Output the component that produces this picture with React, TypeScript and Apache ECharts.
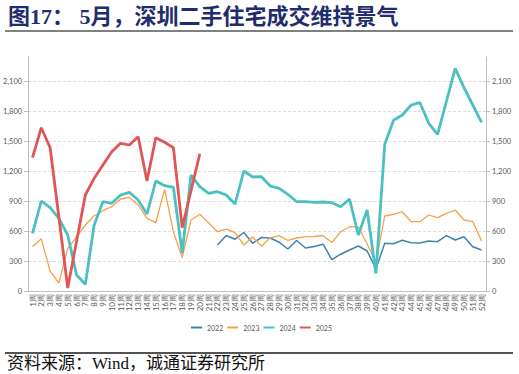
import React, { useEffect, useRef } from "react";
import * as echarts from "echarts";

const weeks: string[] = Array.from({ length: 52 }, (_, i) => `${i + 1}周`);

const s2022: (number | null)[] = [
  null, null, null, null, null, null, null, null, null, null,
  null, null, null, null, null, null, null, null, null, null,
  null, 460, 555, 518, 585, 477, 535, 530, 488, 420,
  505, 430, 445, 468, 313, 368, 410, 450, 400, 222,
  477, 473, 507, 483, 480, 500, 493, 553, 510, 543,
  443, 410,
];

const s2023: (number | null)[] = [
  443, 522, 198, 80, 427, 540, 660, 753, 803, 843,
  920, 937, 860, 727, 683, 1017, 593, 333, 710, 767,
  682, 593, 618, 583, 460, 543, 447, 532, 553, 507,
  530, 543, 545, 555, 485, 593, 643, 640, 470, 290,
  750, 767, 793, 693, 693, 760, 733, 777, 810, 710,
  693, 500,
];

const s2024: (number | null)[] = [
  577, 900, 833, 727, 560, 160, 67, 660, 893, 877,
  960, 987, 910, 770, 1100, 1053, 1037, 380, 1160, 1043,
  977, 993, 960, 870, 1200, 1140, 1143, 1050, 1027, 967,
  893, 893, 887, 890, 883, 843, 920, 560, 810, 175,
  1467, 1707, 1760, 1860, 1883, 1677, 1567, 1895, 2227, 2033,
  1860, 1687,
];

const s2025: (number | null)[] = [
  1333, 1633, 1433, 735, 30, 495, 960, 1127, 1260, 1393,
  1477, 1460, 1543, 1100, 1533, 1487, 1433, 633, 1003, 1373,
];

const seriesNames = ["2022", "2023", "2024", "2025"];
const seriesColors = ["#3c83b4", "#f8a04a", "#4cc0c0", "#e05556"];
const seriesWidths = [1.5, 1.3, 2.8, 2.8];
const seriesData = [s2022, s2023, s2024, s2025];

const titleText = "图17： 5月，深圳二手住宅成交维持景气";
const sourceText = "资料来源：Wind，诚通证券研究所";

const fmt = (v: number) => v.toLocaleString("en-US");

export default function App() {
  const ref = useRef<HTMLDivElement>(null);
  useEffect(() => {
    if (!ref.current) return;
    const chart = echarts.init(ref.current, null, { renderer: "svg" });
    const yCommon = (isLeft: boolean) => ({
      type: "value",
      min: 0,
      max: 2340,
      interval: 300,
      position: isLeft ? "left" : "right",
      axisLine: { show: true, lineStyle: { color: "#bfbfbf", width: 1 } },
      axisTick: { show: true, length: 4, lineStyle: { color: "#bfbfbf" } },
      axisLabel: {
        fontSize: 7.5,
        color: "#595959",
        fontFamily: "Lato",
        margin: 6,
        showMaxLabel: false,
        formatter: fmt,
      },
      splitLine: isLeft
        ? { show: true, showMaxLine: false, showMinLine: false, lineStyle: { color: "#dcdcdc", type: [3, 2], width: 1 } }
        : { show: false },
    });
    chart.setOption({
      animation: false,
      backgroundColor: "#ffffff",
      grid: { left: 27, right: 33, top: 57, bottom: 83, containLabel: false },
      legend: {
        top: 319,
        left: 186,
        itemWidth: 11,
        itemHeight: 2,
        itemGap: 4,
        icon: "rect",
        data: seriesNames,
        textStyle: { fontSize: 7, color: "#595959", fontFamily: "Lato" },
      },
      xAxis: {
        type: "category",
        data: weeks,
        boundaryGap: true,
        axisLine: { lineStyle: { color: "#bfbfbf" } },
        axisTick: { alignWithLabel: true, length: 3, lineStyle: { color: "#bfbfbf" } },
        axisLabel: { interval: 0, rotate: 90, fontSize: 8, color: "#595959", margin: 3, fontFamily: "Lato" },
      },
      yAxis: [yCommon(true), yCommon(false)],
      series: seriesNames.map((name, k) => ({
        name,
        type: "line",
        data: seriesData[k],
        yAxisIndex: k >= 2 ? 1 : 0,
        symbol: "none",
        showSymbol: false,
        connectNulls: false,
        color: seriesColors[k],
        lineStyle: { color: seriesColors[k], width: seriesWidths[k] },
        z: 2 + k,
      })),
      graphic: [
        {
          type: "text",
          x: 8,
          y: 16,
          style: {
            text: titleText,
            font: 'bold 22px "Liberation Serif", "Noto Sans CJK SC"',
            fill: "#1f2d6e",
            verticalAlign: "middle",
            align: "left",
          },
        },
        {
          type: "line",
          shape: { x1: 5, y1: 31, x2: 513, y2: 31 },
          style: { stroke: "#808080", lineWidth: 2 },
        },
        {
          type: "line",
          shape: { x1: 5, y1: 353, x2: 513, y2: 353 },
          style: { stroke: "#1a1a1a", lineWidth: 1.5 },
        },
        {
          type: "text",
          x: 7,
          y: 363,
          style: {
            text: sourceText,
            font: '17px "Liberation Serif", "Noto Sans CJK SC"',
            fill: "#111111",
            verticalAlign: "middle",
            align: "left",
          },
        },
      ],
    });
    return () => chart.dispose();
  }, []);
  return (
    <div
      ref={ref}
      style={{ position: "fixed", left: 0, top: 0, width: 519, height: 374, background: "#fff" }}
    />
  );
}
